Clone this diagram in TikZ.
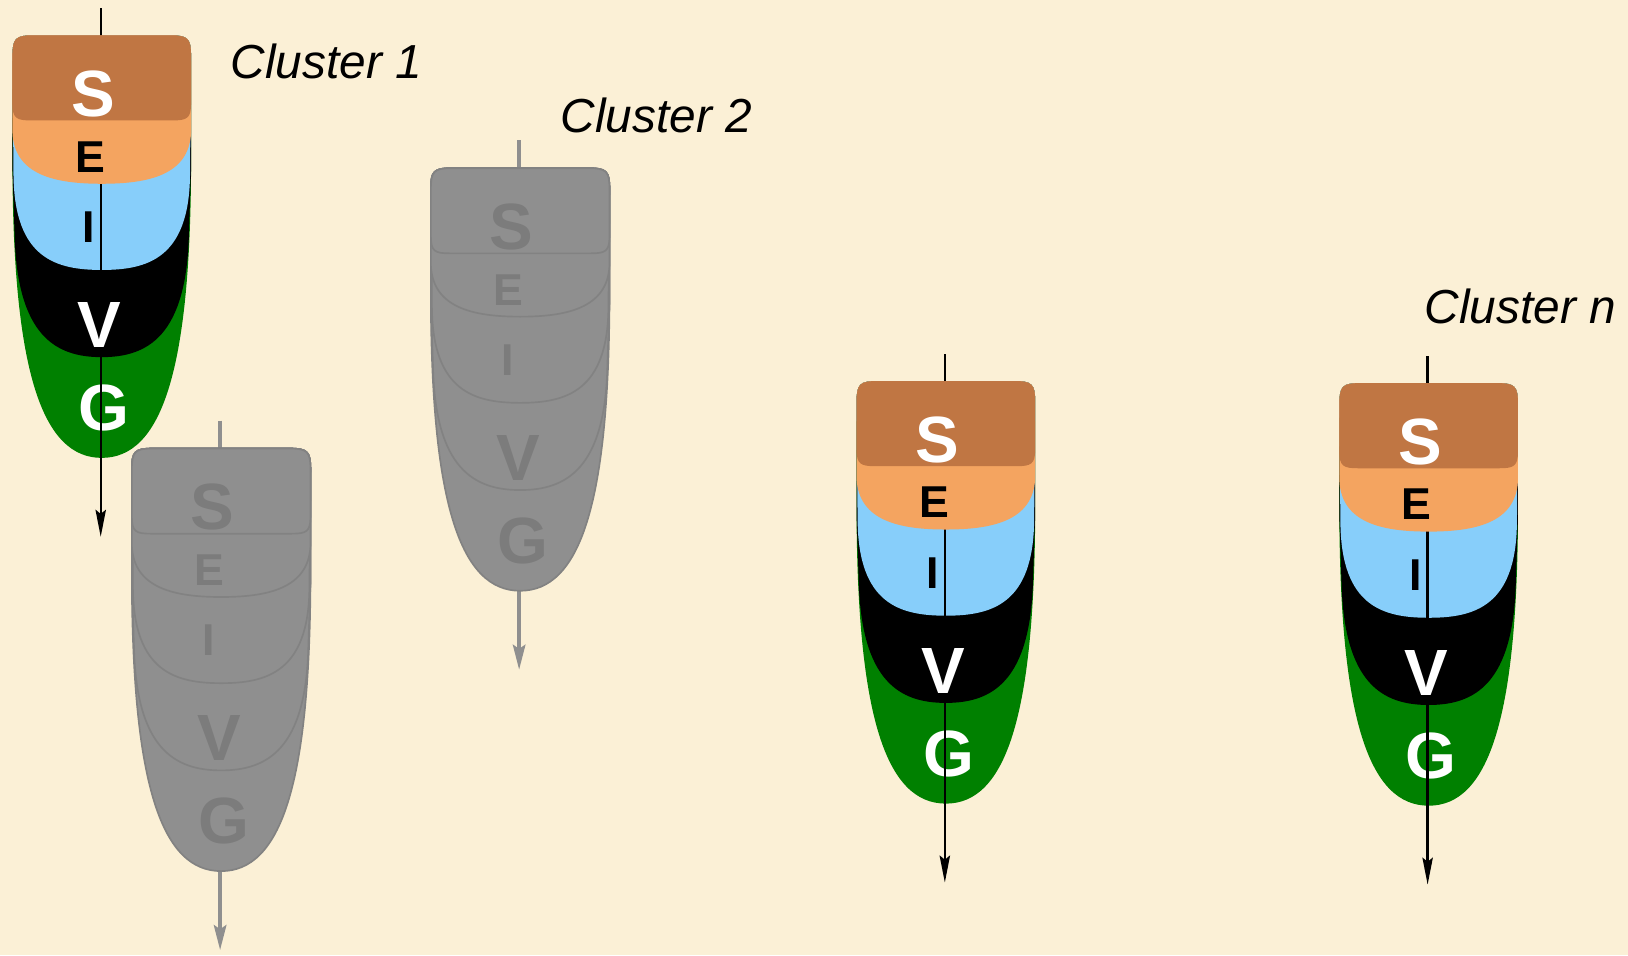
\documentclass[tikz,border=0pt]{standalone}
\usepackage{fontspec}
\setmainfont{Liberation Sans}
\usetikzlibrary{arrows.meta}

\definecolor{parchment}{RGB}{251,240,214}
\definecolor{sbrown}{RGB}{192,118,67}
\definecolor{eorange}{RGB}{244,164,96}
\definecolor{iblue}{RGB}{135,206,250}
\definecolor{ggreen}{RGB}{0,128,0}
\definecolor{pale}{RGB}{143,143,143}
\definecolor{paleline}{RGB}{130,130,130}
\definecolor{paletext}{RGB}{124,124,124}

% outline of the bands, top edge shared by all
\newcommand{\capedge}{(0,20) .. controls (0,3) and (3,0) .. (20,0) -- (152,0) .. controls (169,0) and (172,3) .. (172,20)}
\newcommand{\bandS}{\capedge -- (172,66) .. controls (172,80) and (168,82) .. (154,82) -- (18,82) .. controls (4,82) and (0,80) .. (0,66) -- cycle}
\newcommand{\bandE}{\capedge -- (172,94) .. controls (170,135) and (130,143) .. (86,143) .. controls (42,143) and (2,135) .. (0,94) -- cycle}
\newcommand{\bandI}{\capedge -- (171,135) .. controls (170,215) and (130,226) .. (86,226) .. controls (42,226) and (2,215) .. (1,135) -- cycle}
\newcommand{\bandV}{\capedge -- (172,130) -- (170,190) .. controls (168,290) and (130,310) .. (86,310) .. controls (42,310) and (4,290) .. (2,190) -- (0,130) -- cycle}
\newcommand{\bandG}{\capedge -- (172,130) .. controls (171,325) and (143,407) .. (86,407) .. controls (29,407) and (1,325) .. (0,130) -- cycle}

\tikzset{
  big/.style={font=\fontsize{63}{63}\selectfont\bfseries, inner sep=0pt},
  small/.style={font=\fontsize{43}{43}\selectfont\bfseries, inner sep=0pt},
  clabel/.style={font=\fontsize{46}{46}\selectfont\itshape, inner sep=0pt, anchor=base west},
  flow/.style={line width=2.2pt, -{Stealth[length=26pt,width=10pt,inset=4pt]}},
  paleflow/.style={draw=pale, line width=3.5pt, -{Stealth[length=24pt,width=12pt,inset=4pt]}},
  ghost/.style={fill=pale, draw=paleline, line width=1.6pt},
  ghosttext/.style={text=paletext, fill=pale, inner sep=2pt}
}

\begin{document}
\begin{tikzpicture}[x=1pt,y=-1pt]
  \useasboundingbox (0,0) rectangle (1568,920);
  \fill[parchment] (0,0) rectangle (1568,920);

  % faded clusters
  \foreach \nm/\x/\y in {two/415/162, low/127/432} {
    \begin{scope}[shift={(\x,\y)}]
      \coordinate (in\nm) at (85,-27);
      \coordinate (out\nm) at (85,483);
      \draw[paleflow] (in\nm) -- (out\nm);
      \filldraw[ghost] \bandG;
      \filldraw[ghost] \bandV;
      \filldraw[ghost] \bandI;
      \filldraw[ghost] \bandE;
      \filldraw[ghost] \bandS;
      \node[big,ghosttext] (S\nm) at (77.5,56.5) {S};
      \node[small,ghosttext] (E\nm) at (74.6,117) {E};
      \node[small,ghosttext] (I\nm) at (73.7,185) {I};
      \node[big,ghosttext] (V\nm) at (84,279) {V};
      \node[big,ghosttext] (G\nm) at (88.5,359) {G};
    \end{scope}
  }

  % coloured clusters
  \foreach \nm/\x/\y in {one/12/34, three/825/367, n/1290/369} {
    \begin{scope}[shift={(\x,\y)}]
      \fill[ggreen] \bandG;
      \fill[black] \bandV;
      \fill[iblue] \bandI;
      \node[big,white] (G\nm) at (88.5,359) {G};
      \coordinate (in\nm) at (85,-26);
      \coordinate (out\nm) at (85,483);
      \draw[flow] (in\nm) -- (out\nm);
      \fill[eorange] \bandE;
      \fill[sbrown] \bandS;
      \node[big,white] (S\nm) at (77.5,56.5) {S};
      \node[small] (E\nm) at (74.6,117) {E};
      \node[small] (I\nm) at (73.7,185) {I};
      \node[big,white] (V\nm) at (84,279) {V};
    \end{scope}
  }

  \node[clabel] (lab1) at (222,76) {Cluster 1};
  \node[clabel] (lab2) at (540,128) {Cluster 2};
  \node[clabel] (labn) at (1372,312) {Cluster n};
\end{tikzpicture}
\end{document}
